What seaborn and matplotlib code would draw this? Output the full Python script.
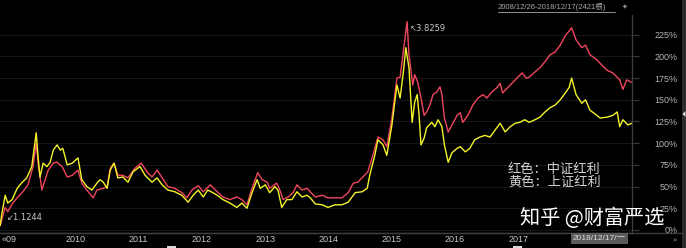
import matplotlib
matplotlib.use("Agg")
import matplotlib.pyplot as plt
from matplotlib.lines import Line2D
from matplotlib.patches import Rectangle, Polygon
import numpy as np
import pandas as pd
import seaborn as sns

# ---------------- data ----------------
red_year = [2008.97, 2009.05, 2009.09, 2009.17, 2009.25, 2009.33, 2009.41, 2009.49, 2009.54, 2009.57,
            2009.63, 2009.68, 2009.73, 2009.81, 2009.87, 2009.95, 2010.03, 2010.11, 2010.20, 2010.26,
            2010.34, 2010.44, 2010.50, 2010.60, 2010.66, 2010.71, 2010.77, 2010.83, 2010.91, 2010.99,
            2011.10, 2011.20, 2011.29, 2011.37, 2011.45, 2011.53, 2011.62, 2011.73, 2011.84, 2011.92,
            2012.00, 2012.10, 2012.18, 2012.29, 2012.40, 2012.49, 2012.60, 2012.71, 2012.79, 2012.87,
            2012.95, 2013.04, 2013.11, 2013.19, 2013.23, 2013.34, 2013.39, 2013.44, 2013.52, 2013.60,
            2013.66, 2013.74, 2013.82, 2013.87, 2013.95, 2014.06, 2014.15, 2014.26, 2014.37, 2014.47,
            2014.55, 2014.62, 2014.70, 2014.78, 2014.86, 2014.94, 2015.02, 2015.08, 2015.16, 2015.24,
            2015.29, 2015.34, 2015.40, 2015.43, 2015.49, 2015.52, 2015.57, 2015.62, 2015.67, 2015.71,
            2015.76, 2015.81, 2015.87, 2015.92, 2015.95, 2015.99, 2016.05, 2016.11, 2016.19, 2016.24,
            2016.28, 2016.36, 2016.44, 2016.52, 2016.60, 2016.66, 2016.74, 2016.82, 2016.87, 2016.91,
            2016.99, 2017.07, 2017.15, 2017.22, 2017.28, 2017.33, 2017.42, 2017.50, 2017.58, 2017.66,
            2017.74, 2017.82, 2017.91, 2017.96, 2018.00, 2018.07, 2018.16, 2018.22, 2018.29, 2018.40,
            2018.45, 2018.56, 2018.65, 2018.76, 2018.81, 2018.87, 2018.95]
red_pct = [5, 26, 21, 31, 38, 44, 52, 73, 100, 77,
           46, 58, 69, 77, 78, 73, 61, 63, 69, 54,
           46, 37, 46, 48, 50, 71, 77, 63, 63, 60,
           71, 77, 67, 61, 69, 60, 50, 48, 43, 37,
           46, 51, 44, 52, 44, 38, 35, 38, 35, 29,
           48, 66, 58, 55, 48, 54, 46, 35, 38, 43,
           52, 46, 48, 44, 38, 40, 37, 37, 37, 43,
           54, 55, 61, 67, 86, 107, 104, 96, 129, 175,
           176, 205, 240, 202, 167, 179, 170, 152, 132, 136,
           144, 156, 159, 165, 156, 129, 113, 121, 132, 135,
           124, 132, 144, 152, 156, 152, 159, 164, 169, 158,
           164, 170, 176, 181, 175, 176, 182, 187, 194, 202,
           205, 213, 225, 229, 233, 219, 210, 213, 202, 196,
           192, 184, 181, 173, 162, 173, 170]

yel_year = [2008.97, 2009.00, 2009.05, 2009.09, 2009.16, 2009.24, 2009.32, 2009.39, 2009.47, 2009.54,
            2009.57, 2009.60, 2009.65, 2009.71, 2009.76, 2009.81, 2009.87, 2009.92, 2009.96, 2010.03,
            2010.11, 2010.20, 2010.26, 2010.34, 2010.42, 2010.50, 2010.55, 2010.60, 2010.66, 2010.71,
            2010.77, 2010.83, 2010.91, 2010.99, 2011.07, 2011.18, 2011.26, 2011.37, 2011.45, 2011.53,
            2011.62, 2011.73, 2011.84, 2011.94, 2012.02, 2012.10, 2012.18, 2012.25, 2012.33, 2012.40,
            2012.49, 2012.60, 2012.71, 2012.79, 2012.87, 2012.95, 2013.03, 2013.08, 2013.16, 2013.23,
            2013.31, 2013.36, 2013.42, 2013.50, 2013.58, 2013.66, 2013.74, 2013.82, 2013.87, 2013.95,
            2014.06, 2014.15, 2014.26, 2014.37, 2014.47, 2014.58, 2014.69, 2014.77, 2014.81, 2014.89,
            2014.94, 2015.02, 2015.08, 2015.16, 2015.24, 2015.29, 2015.34, 2015.38, 2015.43, 2015.48,
            2015.52, 2015.56, 2015.59, 2015.62, 2015.67, 2015.71, 2015.79, 2015.84, 2015.89, 2015.95,
            2015.99, 2016.05, 2016.11, 2016.19, 2016.24, 2016.32, 2016.39, 2016.47, 2016.55, 2016.63,
            2016.71, 2016.79, 2016.87, 2016.95, 2017.03, 2017.11, 2017.18, 2017.26, 2017.33, 2017.42,
            2017.50, 2017.58, 2017.66, 2017.74, 2017.82, 2017.91, 2017.96, 2018.00, 2018.07, 2018.16,
            2018.22, 2018.29, 2018.40, 2018.45, 2018.56, 2018.65, 2018.72, 2018.76, 2018.81, 2018.89,
            2018.95]
yel_pct = [5, 20, 40, 31, 35, 48, 55, 60, 73, 112,
           84, 61, 77, 73, 78, 92, 98, 92, 94, 75,
           77, 83, 58, 50, 46, 54, 58, 55, 48, 69,
           77, 60, 61, 55, 67, 73, 63, 55, 60, 52,
           46, 44, 40, 32, 40, 46, 38, 46, 43, 40,
           35, 31, 26, 31, 25, 43, 58, 48, 52, 43,
           50, 46, 26, 35, 35, 44, 38, 40, 37, 30,
           29, 26, 29, 29, 32, 43, 44, 48, 63, 86,
           104, 98, 86, 121, 167, 152, 181, 210, 187, 124,
           147, 156, 132, 98, 106, 118, 124, 119, 127, 119,
           98, 78, 89, 94, 96, 90, 94, 104, 107, 109,
           107, 115, 123, 113, 119, 123, 124, 127, 124, 127,
           130, 136, 141, 144, 150, 159, 164, 175, 156, 146,
           150, 138, 132, 129, 130, 132, 136, 119, 127, 121,
           123]

series_names = ["中证红利", "上证红利"]
series_colors = ["#f0475f", "#f4f42a"]
y_ticks = [0, 25, 50, 75, 100, 125, 150, 175, 200, 225]
x_ticks = [2009, 2010, 2011, 2012, 2013, 2014, 2015, 2016, 2017]
x_labels = ["«09", "2010", "2011", "2012", "2013", "2014", "2015", "2016", "2017"]
legend_lines = ["红色：中证红利", "黄色：上证红利"]
title_text = "2008/12/26-2018/12/17(2421根)"
peak_label = "↖3.8259"
low_label = "↙1.1244"
cursor_label = "2018/12/17/一"
watermark = "知乎 @财富严选"

# ---------------- styling ----------------
sns.set_theme(style="dark", rc={"axes.facecolor": "black", "figure.facecolor": "black",
                                "savefig.facecolor": "black"})
plt.rcParams["font.family"] = ["Liberation Sans", "Noto Sans CJK SC", "DejaVu Sans"]

W, H = 686, 248
fig = plt.figure(figsize=(W / 100, H / 100), dpi=100)
ax = fig.add_axes([0, 15 / H, 632 / W, 218 / H])
ax.set_facecolor("black")

df = pd.concat([
    pd.DataFrame({"year": red_year, "pct": red_pct, "series": series_names[0]}),
    pd.DataFrame({"year": yel_year, "pct": yel_pct, "series": series_names[1]}),
], ignore_index=True)

sns.lineplot(data=df, x="year", y="pct", hue="series", hue_order=series_names,
             palette=dict(zip(series_names, series_colors)), estimator=None,
             legend=False, linewidth=1.0, ax=ax)

ax.set_xlim(2008.968, 2018.954)
ax.set_ylim(-3.5, 247.7)
ax.set_xlabel("")
ax.set_ylabel("")

ax.yaxis.tick_right()
ax.set_yticks(y_ticks)
ax.set_yticklabels([f"{v}%" for v in y_ticks])
ax.tick_params(axis="y", which="both", right=True, left=False, length=5, width=0.8,
               color="#3a3a3a", labelcolor="#b4b4b4", labelsize=6.5, pad=28)
for lbl in ax.get_yticklabels():
    lbl.set_horizontalalignment("right")

ax.set_xticks(x_ticks)
ax.set_xticklabels(x_labels)
ax.tick_params(axis="x", length=0, labelcolor="#c8c8c8", labelsize=6.5, pad=1.5)
for lbl in ax.get_xticklabels():
    lbl.set_horizontalalignment("left")

ax.grid(axis="y", color="#1c1c1c", linewidth=0.6)
ax.grid(axis="x", visible=False)
for s in ["top", "left"]:
    ax.spines[s].set_visible(False)
for s in ["bottom", "right"]:
    ax.spines[s].set_visible(True)
    ax.spines[s].set_color("#3c3c3c")
    ax.spines[s].set_linewidth(1.0)

# annotations
ax.text(2015.45, 232, peak_label, fontsize=6, color="#c8c8c8", ha="left", va="center",
        family=["DejaVu Sans"])
ax.text(2009.08, 14, low_label, fontsize=6, color="#c8c8c8", ha="left", va="center",
        family=["DejaVu Sans"])

# figure-level decorations
fig.text(498 / W, 1 - 7 / H, title_text, fontsize=5.5, color="#a8a8a8", ha="left", va="center",
         family=["Liberation Sans", "Noto Sans CJK SC"])
fig.add_artist(Line2D([498 / W, 615 / W], [1 - 11.5 / H] * 2, color="#a8a8a8", lw=0.6))
fig.text(622 / W, 1 - 7 / H, "✦", fontsize=5, color="#909090", ha="left", va="center",
         family=["DejaVu Sans"])

for i, line in enumerate(legend_lines):
    fig.text(508 / W, 1 - (169 + 13 * i) / H, line, fontsize=9.5, color="#d4d4d4",
             ha="left", va="center", family=["Noto Sans CJK SC"])

fig.text(626 / W, 1 - 238.5 / H, cursor_label, fontsize=6, color="#dadada", ha="right",
         va="center", family=["Liberation Sans", "Noto Sans CJK SC"],
         bbox=dict(facecolor="#5a5a5a", edgecolor="none", pad=1.2))
fig.text(672 / W, 1 - 240.5 / H, "››", fontsize=5, color="#a0a0a0", ha="left", va="center",
         family=["DejaVu Sans"])

fig.add_artist(Line2D([0, 682 / W], [15 / H] * 2, color="#3c3c3c", lw=1.0))
fig.add_artist(Rectangle((682 / W, 0), 4 / W, 1, transform=fig.transFigure,
                         facecolor="#2c2c2c", edgecolor="none"))
fig.add_artist(Polygon([[682.5 / W, 1 - 114 / H], [685.5 / W, 1 - 111 / H], [685.5 / W, 1 - 117 / H]],
                       closed=True, transform=fig.transFigure, facecolor="#e0e0e0", edgecolor="none"))
for x0 in (167, 513):
    fig.add_artist(Rectangle((x0 / W, 0), 9 / W, 2 / H, transform=fig.transFigure,
                             facecolor="#d8d8d8", edgecolor="none"))

fig.text(592 / W, 1 - 218 / H, watermark, fontsize=14.5, color="white", ha="center",
         va="center", family=["Noto Sans CJK SC"])

fig.savefig("out.png", dpi=100, facecolor="black")
